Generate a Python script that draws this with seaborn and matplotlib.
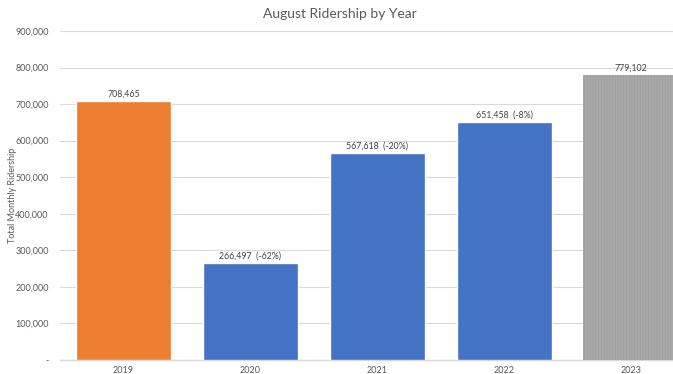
import matplotlib
matplotlib.use("Agg")
import matplotlib.pyplot as plt
import seaborn as sns
import pandas as pd
from matplotlib.ticker import FuncFormatter

years = ["2019", "2020", "2021", "2022", "2023"]
ridership = [708465, 266497, 567618, 651458, 779102]
labels = ["708,465", "266,497  (-62%)", "567,618  (-20%)", "651,458  (-8%)", "779,102"]
colors = ["#ED7D31", "#4472C4", "#4472C4", "#4472C4", "#A8A8A8"]

sns.set_theme(style="white")
plt.rcParams['font.family'] = ['Lato', 'DejaVu Sans']
plt.rcParams['hatch.linewidth'] = 0.3

df = pd.DataFrame({"year": years, "riders": ridership})

fig = plt.figure(figsize=(6.73, 3.74), dpi=100)
ax = fig.add_axes([60/673, 1-360/374, (694.5-60)/673, (360-31)/374])

sns.barplot(data=df, x="year", y="riders", hue="year", palette=colors,
            legend=False, width=0.75, ax=ax, saturation=1, zorder=3)

# fine vertical pattern on the last bar
last = ax.patches[-1]
last.set_hatch("||||||")
last.set_edgecolor("#989898")
last.set_linewidth(0)

ax.set_ylim(0, 900000)
ax.set_yticks(range(0, 900001, 100000))
ax.yaxis.set_major_formatter(FuncFormatter(lambda v, p: "-" if v == 0 else f"{int(v):,}"))
ax.grid(axis="y", color="#D9D9D9", linewidth=0.8, zorder=0)
for s in ["top", "right", "left"]:
    ax.spines[s].set_visible(False)
ax.spines["bottom"].set_color("#D9D9D9")
ax.spines["bottom"].set_linewidth(1)
ax.tick_params(axis="both", length=0, labelsize=6.5, labelcolor="#595959")
ax.tick_params(axis="y", pad=8)
ax.tick_params(axis="x", pad=4)
ax.set_xlabel("")
ax.set_ylabel("")

for p, lab in zip(ax.patches, labels):
    ax.annotate(lab, (p.get_x() + p.get_width()/2, p.get_height()),
                xytext=(0, 1.5), textcoords="offset points", ha="center", va="bottom",
                fontsize=6.3, color="#404040")

fig.text(340/673, 1-14/374, "August Ridership by Year", ha="center", va="center",
         fontsize=10, color="#595959")
fig.text(13/673, 1-195/374, "Total Monthly Ridership", ha="center", va="center",
         rotation=90, fontsize=6.5, color="#595959")

fig.savefig("out.png", dpi=100)
